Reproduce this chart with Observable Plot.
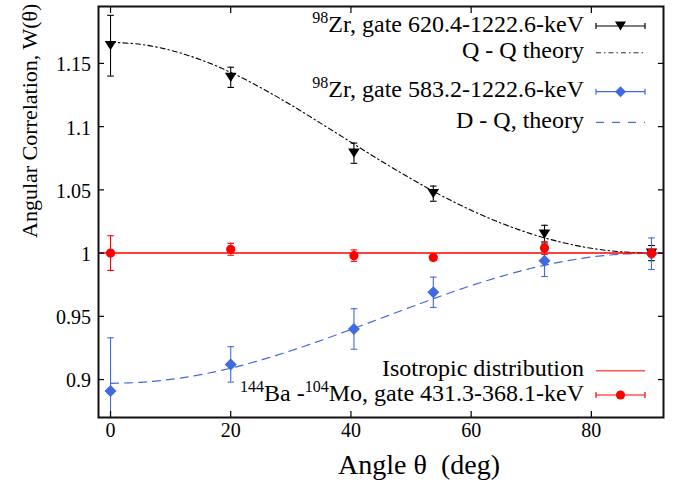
<!DOCTYPE html>
<html><head><meta charset="utf-8">
<script src="https://cdn.jsdelivr.net/npm/d3@7"></script>
<script src="https://cdn.jsdelivr.net/npm/@observablehq/plot@0.6"></script>
<style>
body{margin:0;background:#fff;}
#chart svg{display:block;}
</style></head><body><div id="chart"></div>
<script>
// ---- data ----
const angles = [0, 20, 40.5, 53.7, 72.2, 90];
const zr620 = [1.164, 1.139, 1.079, 1.047, 1.015, 1.000];
const zr620Err = [0.024, 0.008, 0.008, 0.006, 0.007, 0.006];
const zr583 = [0.891, 0.912, 0.940, 0.969, 0.994, 0.9995];
const zr583Err = [0.042, 0.014, 0.016, 0.012, 0.0125, 0.0125];
const baMo = [1.000, 1.003, 0.998, 0.9965, 1.004, 1.000];
const baMoErr = [0.0137, 0.0047, 0.0045, 0.002, 0.005, 0.003];
const isotropic = [1];
const theoryAngles = [0,5,10,15,20,25,30,35,40,45,50,55,60,65,70,75,80,85,90];
const qqTheory = [1.1667,1.1651,1.1604,1.1529,1.1429,1.1308,1.1172,1.1026,1.0877,1.0729,1.0588,1.0456,1.0339,1.0237,1.0152,1.0086,1.0038,1.0010,1.0000];
const dqTheory = [0.8970,0.8978,0.9001,0.9039,0.9090,0.9154,0.9228,0.9309,0.9396,0.9485,0.9574,0.9661,0.9743,0.9816,0.9880,0.9931,0.9969,0.9992,1.0000];
const xTicks = [0, 20, 40, 60, 80];
const yTicks = [0.9, 0.95, 1, 1.05, 1.1, 1.15];
const yTickLabels = ["0.9", "0.95", "1", "1.05", "1.1", "1.15"];
const legendTop = [
  {sup:"98", text:"Zr, gate 620.4-1222.6-keV"},
  {sup:null, text:"Q - Q theory"},
  {sup:"98", text:"Zr, gate 583.2-1222.6-keV"},
  {sup:null, text:"D - Q, theory"}
];
const legendBottom = ["Isotropic distribution", "144Ba -104Mo, gate 431.3-368.1-keV"];

const BLACK = "#000000", BLUE = "#4169e1", RED = "#ff0000";
const FONT = "Liberation Serif";

const pts = (ys, errs) => angles.map((a, i) => ({x: a, y: ys[i], lo: ys[i] - errs[i], hi: ys[i] + errs[i]}));
const curve = (ys) => theoryAngles.map((a, i) => ({x: a, y: ys[i]}));
const zrA = pts(zr620, zr620Err), zrB = pts(zr583, zr583Err), ba = pts(baMo, baMoErr);

const rad = (size) => Math.sqrt(size / Math.PI);
const capSym = {draw(c, s){const r = rad(s); c.moveTo(-r, 0); c.lineTo(r, 0);}};
const triDown = {draw(c, s){const r = rad(s); c.moveTo(-r, -0.8*r); c.lineTo(r, -0.8*r); c.lineTo(0, 0.8*r); c.closePath();}};
const diamond = {draw(c, s){const r = rad(s); c.moveTo(0, -r); c.lineTo(r, 0); c.lineTo(0, r); c.lineTo(-r, 0); c.closePath();}};

function errMarks(data, color, symbol, r) {
  return [
    Plot.ruleX(data, {x: "x", y1: "lo", y2: "hi", stroke: color, strokeWidth: 1.1, clip: true}),
    Plot.dot(data, {x: "x", y: "lo", symbol: capSym, r: 3.3, stroke: color, strokeWidth: 1.1, fill: "none", clip: true}),
    Plot.dot(data, {x: "x", y: "hi", symbol: capSym, r: 3.3, stroke: color, strokeWidth: 1.1, fill: "none", clip: true}),
    Plot.dot(data, {x: "x", y: "y", symbol, r, fill: color, stroke: "none"})
  ];
}

const chart = Plot.plot({
  width: 680, height: 482,
  marginLeft: 98, marginRight: 17, marginTop: 6, marginBottom: 65,
  style: {fontFamily: FONT, fontSize: "20px", color: "black", background: "white"},
  x: {domain: [-2, 92]},
  y: {domain: [0.87, 1.195]},
  marks: [
    Plot.line(curve(qqTheory), {x: "x", y: "y", stroke: BLACK, strokeWidth: 1.1, strokeDasharray: "5,3,1.5,3", curve: "catmull-rom"}),
    Plot.line(curve(dqTheory), {x: "x", y: "y", stroke: BLUE, strokeWidth: 1.2, strokeDasharray: "8,6", curve: "catmull-rom"}),
    Plot.ruleY(isotropic, {stroke: RED, strokeWidth: 1.5}),
    ...errMarks(zrA, BLACK, triDown, 5.8),
    ...errMarks(zrB, BLUE, diamond, 6),
    ...errMarks(ba, RED, "circle", 4.6),
    Plot.axisX(xTicks, {anchor: "bottom", tickSize: 0, tickPadding: 5.5, label: null, fontSize: 20, fontFamily: FONT}),
    Plot.axisX(xTicks, {anchor: "bottom", tickSize: -6, text: null, label: null, strokeWidth: 1.2}),
    Plot.axisX(xTicks, {anchor: "top", tickSize: -6, text: null, label: null, strokeWidth: 1.2}),
    Plot.axisY(yTicks, {anchor: "left", tickSize: 0, tickPadding: 7.5, label: null, dy: 1.5, fontSize: 20, fontFamily: FONT,
      tickFormat: (d) => yTickLabels[yTicks.indexOf(d)]}),
    Plot.axisY(yTicks, {anchor: "left", tickSize: -6, text: null, label: null, strokeWidth: 1.2}),
    Plot.axisY(yTicks, {anchor: "right", tickSize: -6, text: null, label: null, strokeWidth: 1.2}),
    Plot.frame({stroke: "#111", strokeWidth: 2}),
    Plot.text(["Angle θ \u00A0(deg)"], {frameAnchor: "bottom", dx: 38, dy: 56, fontSize: 28, lineAnchor: "bottom", fontFamily: FONT}),
    Plot.text(["Angular Correlation, W(θ)"], {frameAnchor: "left", rotate: -90, dx: -62, dy: 26, fontSize: 22, lineAnchor: "bottom", fontFamily: FONT})
  ]
});
document.getElementById("chart").append(chart);

// ---- legend (gnuplot-style key) ----
const svg = d3.select(chart).attr("font-family", FONT);
const g = svg.append("g").attr("font-family", FONT).attr("font-size", 24).attr("fill", "black");
const textX = 584, s0 = 596, s1 = 645, sc = (s0 + s1) / 2;

function newText(y) {
  return g.append("text").attr("x", textX).attr("y", y + 5.5).attr("text-anchor", "end").attr("font-family", FONT);
}
function addLabel(y, sup, rest) {
  const t = newText(y);
  if (sup) { t.append("tspan").attr("font-size", 16).attr("dy", -9).text(sup); t.append("tspan").attr("dy", 9).text(rest); }
  else t.text(rest);
  return t;
}
function errSample(y, color, symbol, r) {
  g.append("line").attr("x1", s0).attr("x2", s1).attr("y1", y).attr("y2", y).attr("stroke", color).attr("stroke-width", 1.2);
  g.append("line").attr("x1", s0).attr("x2", s0).attr("y1", y - 3).attr("y2", y + 3).attr("stroke", color).attr("stroke-width", 1.2);
  g.append("line").attr("x1", s1).attr("x2", s1).attr("y1", y - 3).attr("y2", y + 3).attr("stroke", color).attr("stroke-width", 1.2);
  const sym = d3.symbol(symbol, r * r * Math.PI);
  g.append("path").attr("d", sym()).attr("transform", `translate(${sc},${y})`).attr("fill", color);
}
function lineSample(y, color, dash, w) {
  g.append("line").attr("x1", s0).attr("x2", s1).attr("y1", y).attr("y2", y).attr("stroke", color).attr("stroke-width", w).attr("stroke-dasharray", dash);
}
const rowsTop = [26, 52.7, 91.7, 122.3];
addLabel(rowsTop[0], legendTop[0].sup, legendTop[0].text); errSample(rowsTop[0], BLACK, triDown, 5.5);
addLabel(rowsTop[1], null, legendTop[1].text); lineSample(rowsTop[1], "#333", "5,3,1.5,3", 1.1);
addLabel(rowsTop[2], legendTop[2].sup, legendTop[2].text); errSample(rowsTop[2], BLUE, diamond, 5.5);
addLabel(rowsTop[3], null, legendTop[3].text); lineSample(rowsTop[3], BLUE, "8,8", 1.2);

const rowsBot = [370.7, 395];
addLabel(rowsBot[0], null, legendBottom[0]); lineSample(rowsBot[0], "#ff5555", null, 1.5);
{
  const t = newText(rowsBot[1]);
  t.append("tspan").attr("font-size", 16).attr("dy", -9).text("144");
  t.append("tspan").attr("dy", 9).text("Ba -");
  t.append("tspan").attr("font-size", 16).attr("dy", -9).text("104");
  t.append("tspan").attr("dy", 9).text("Mo, gate 431.3-368.1-keV");
}
errSample(rowsBot[1], RED, d3.symbolCircle, 4.6);
</script></body></html>
